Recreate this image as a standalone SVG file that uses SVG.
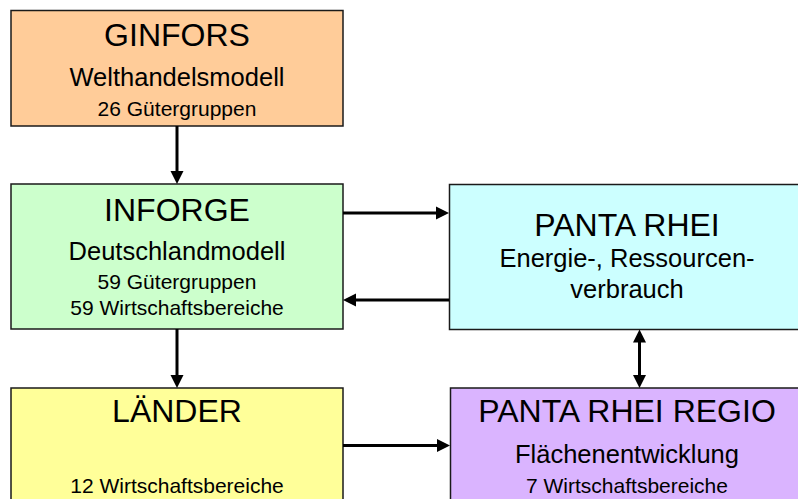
<svg xmlns="http://www.w3.org/2000/svg" width="798" height="499" viewBox="0 0 798 499">
<style>
.box{stroke:#1a1a1a;stroke-width:1.5}
text{font-family:"Liberation Sans",Arial,sans-serif;fill:#000;text-anchor:middle}
.t{font-size:32px}
.s{font-size:25.5px}
.m{font-size:21px}
.c{stroke:#000;stroke-width:3;fill:none}
</style>
<defs>
<marker id="ah" markerUnits="userSpaceOnUse" markerWidth="14" markerHeight="14" refX="4" refY="7" orient="auto-start-reverse">
<path d="M0,0.5 L13,7 L0,13.5 Z" fill="#000"/>
</marker>
</defs>
<rect width="798" height="499" fill="#fff"/>
<g id="ginfors">
<rect class="box" x="11" y="10.5" width="332" height="115.5" fill="#FFCC99"/>
<text class="t" x="177" y="46">GINFORS</text>
<text class="s" x="177" y="86">Welthandelsmodell</text>
<text class="m" x="177" y="116">26 Gütergruppen</text>
</g>
<g id="inforge">
<rect class="box" x="11" y="184" width="332" height="145" fill="#CCFFCC"/>
<text class="t" x="177" y="221">INFORGE</text>
<text class="s" x="177" y="260">Deutschlandmodell</text>
<text class="m" x="177" y="289">59 Gütergruppen</text>
<text class="m" x="177" y="315">59 Wirtschaftsbereiche</text>
</g>
<g id="pantarhei">
<rect class="box" x="449.5" y="184.5" width="360" height="145" fill="#CCFFFF"/>
<text class="t" x="627" y="236">PANTA RHEI</text>
<text class="s" x="627" y="267">Energie-, Ressourcen-</text>
<text class="s" x="627" y="298">verbrauch</text>
</g>
<g id="laender">
<rect class="box" x="11" y="388" width="332" height="130" fill="#FFFF99"/>
<text class="t" x="177" y="422">LÄNDER</text>
<text class="m" x="177" y="493">12 Wirtschaftsbereiche</text>
</g>
<g id="regio">
<rect class="box" x="450.5" y="388" width="360" height="130" fill="#DAB4FF"/>
<text class="t" x="627" y="422">PANTA RHEI REGIO</text>
<text class="s" x="627" y="463">Flächenentwicklung</text>
<text class="m" x="627" y="493">7 Wirtschaftsbereiche</text>
</g>
<g id="connectors">
<line class="c" x1="177" y1="126" x2="177" y2="175" marker-end="url(#ah)"/>
<line class="c" x1="343" y1="213" x2="440" y2="213" marker-end="url(#ah)"/>
<line class="c" x1="449" y1="300" x2="352" y2="300" marker-end="url(#ah)"/>
<line class="c" x1="177" y1="329" x2="177" y2="379" marker-end="url(#ah)"/>
<line class="c" x1="343" y1="445.5" x2="441" y2="445.5" marker-end="url(#ah)"/>
<line class="c" x1="639.5" y1="338.5" x2="639.5" y2="379" marker-start="url(#ah)" marker-end="url(#ah)"/>
</g>
</svg>
